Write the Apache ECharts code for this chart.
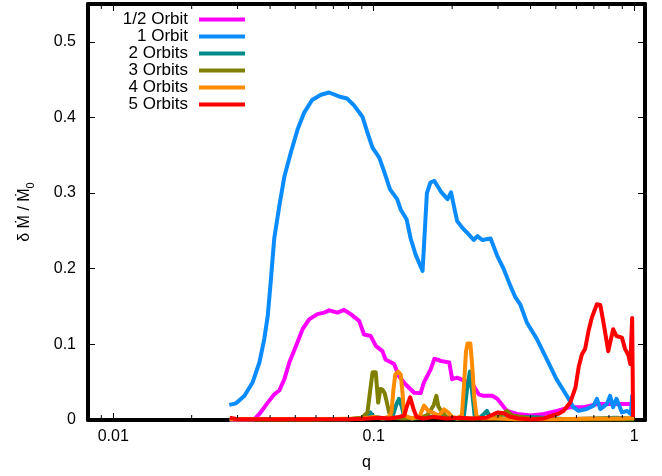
<!DOCTYPE html>
<html>
<head>
<meta charset="utf-8">
<script src="https://cdn.jsdelivr.net/npm/echarts@6/dist/echarts.min.js"></script>
<style>
    html, body { margin: 0; padding: 0; background: #fff; }
    #ct1 { width: 662px; height: 476px; }
</style>
</head>
<body>
<div id="ct1"></div>
<script>
// [q, dM/M0]
var halfOrbit = [[0.028, 0], [0.03, 0], [0.0347, 0.0005], [0.0364, 0.008], [0.0392, 0.023], [0.0415, 0.034],
    [0.0434, 0.039], [0.0454, 0.054], [0.0474, 0.076], [0.0503, 0.098], [0.0533, 0.120], [0.0565, 0.133],
    [0.0608, 0.140], [0.0645, 0.142], [0.0674, 0.145], [0.0684, 0.146], [0.0726, 0.142], [0.077, 0.1455],
    [0.0816, 0.140], [0.0879, 0.131], [0.0918, 0.113], [0.0974, 0.111], [0.1018, 0.098], [0.108, 0.091],
    [0.111, 0.080], [0.1197, 0.074], [0.125, 0.058], [0.1326, 0.047], [0.143, 0.036], [0.1514, 0.0356],
    [0.156, 0.050], [0.1654, 0.067], [0.171, 0.081], [0.181, 0.078], [0.195, 0.076], [0.2, 0.054],
    [0.209, 0.056], [0.222, 0.052], [0.232, 0.050], [0.242, 0.045], [0.253, 0.034], [0.264, 0.032],
    [0.285, 0.032], [0.298, 0.028], [0.325, 0.012], [0.355, 0.008], [0.40, 0.006], [0.45, 0.008],
    [0.505, 0.012], [0.568, 0.017], [0.64, 0.017], [0.72, 0.021], [0.81, 0.021], [0.91, 0.021],
    [0.97, 0.021], [1.0, 0.021]];

var oneOrbit = [[0.0279, 0.020], [0.0296, 0.022], [0.0319, 0.032], [0.0343, 0.050], [0.0364, 0.076],
    [0.038, 0.107], [0.0392, 0.138], [0.0403, 0.186], [0.0415, 0.240], [0.0434, 0.283], [0.0454, 0.322],
    [0.048, 0.353], [0.051, 0.384], [0.054, 0.406], [0.058, 0.423], [0.0627, 0.430], [0.0674, 0.433],
    [0.0748, 0.427], [0.079, 0.425], [0.084, 0.416], [0.0905, 0.401], [0.0946, 0.380], [0.0989, 0.360],
    [0.105, 0.347], [0.110, 0.327], [0.1155, 0.305], [0.123, 0.292], [0.127, 0.278], [0.1338, 0.265],
    [0.1386, 0.240], [0.1447, 0.219], [0.154, 0.197], [0.160, 0.300], [0.165, 0.314], [0.171, 0.316],
    [0.181, 0.302], [0.192, 0.292], [0.198, 0.301], [0.2, 0.301], [0.209, 0.263], [0.219, 0.254],
    [0.232, 0.245], [0.242, 0.238], [0.250, 0.243], [0.261, 0.238], [0.281, 0.240], [0.298, 0.217],
    [0.316, 0.199], [0.335, 0.177], [0.350, 0.162], [0.365, 0.153], [0.387, 0.129], [0.423, 0.107],
    [0.462, 0.080], [0.503, 0.054], [0.551, 0.032], [0.584, 0.017], [0.611, 0.012], [0.657, 0.0145],
    [0.698, 0.019], [0.719, 0.028], [0.741, 0.0145], [0.785, 0.021], [0.808, 0.032], [0.83, 0.017],
    [0.855, 0.028], [0.897, 0.010], [0.94, 0.012], [0.97, 0.008], [0.982, 0.032], [0.99, 0.006]];

var twoOrbits = [[0.028, 0.001], [0.08, 0.001], [0.094, 0.003], [0.097, 0.010], [0.1, 0.004], [0.11, 0.002],
    [0.118, 0.004], [0.122, 0.020], [0.125, 0.028], [0.128, 0.018], [0.131, 0.004], [0.14, 0.002],
    [0.16, 0.003], [0.175, 0.006], [0.19, 0.003], [0.21, 0.002], [0.222, 0.006], [0.228, 0.040],
    [0.234, 0.064], [0.239, 0.035], [0.244, 0.006], [0.255, 0.003], [0.265, 0.008], [0.272, 0.012],
    [0.28, 0.004], [0.3, 0.002], [0.35, 0.003], [0.4, 0.004], [0.45, 0.003], [0.55, 0.001], [0.7, 0.002],
    [0.85, 0.003], [0.95, 0.002], [0.99, 0.003]];

var threeOrbits = [[0.028, 0.001], [0.08, 0.001], [0.09, 0.003], [0.0946, 0.010], [0.097, 0.040],
    [0.099, 0.063], [0.1018, 0.063], [0.104, 0.023], [0.106, 0.041], [0.108, 0.040], [0.110, 0.036],
    [0.112, 0.025], [0.1145, 0.010], [0.118, 0.003], [0.13, 0.002], [0.15, 0.003], [0.16, 0.006],
    [0.165, 0.012], [0.17, 0.020], [0.174, 0.032], [0.177, 0.018], [0.18, 0.014], [0.19, 0.004],
    [0.21, 0.002], [0.25, 0.002], [0.3, 0.004], [0.325, 0.012], [0.34, 0.006], [0.4, 0.002], [0.6, 0.001],
    [0.9, 0.001], [1.0, 0.001]];

var fourOrbits = [[0.028, 0.001], [0.06, 0.001], [0.09, 0.002], [0.1, 0.004], [0.108, 0.002], [0.114, 0.004],
    [0.117, 0.010], [0.119, 0.040], [0.121, 0.060], [0.124, 0.064], [0.127, 0.060], [0.129, 0.035],
    [0.131, 0.006], [0.14, 0.002], [0.15, 0.005], [0.156, 0.019], [0.162, 0.012], [0.17, 0.009],
    [0.178, 0.006], [0.186, 0.014], [0.193, 0.010], [0.2, 0.004], [0.21, 0.002], [0.218, 0.006],
    [0.222, 0.045], [0.226, 0.090], [0.229, 0.101], [0.235, 0.101], [0.239, 0.070], [0.243, 0.030],
    [0.248, 0.005], [0.26, 0.002], [0.3, 0.002], [0.35, 0.001], [0.5, 0.001], [0.7, 0.002], [0.9, 0.002],
    [1.0, 0.003]];

var fiveOrbits = [[0.028, 0.003], [0.03, 0.001], [0.04, 0.001], [0.06, 0.001], [0.08, 0.001], [0.095, 0.002],
    [0.105, 0.003], [0.115, 0.002], [0.125, 0.004], [0.131, 0.006], [0.134, 0.018], [0.138, 0.030],
    [0.142, 0.015], [0.146, 0.004], [0.155, 0.002], [0.17, 0.004], [0.19, 0.002], [0.21, 0.003],
    [0.24, 0.002], [0.27, 0.003], [0.29, 0.008], [0.30, 0.010], [0.316, 0.009], [0.33, 0.005],
    [0.36, 0.002], [0.40, 0.001], [0.45, 0.002], [0.476, 0.005], [0.51, 0.008], [0.535, 0.012],
    [0.568, 0.023], [0.595, 0.043], [0.612, 0.070], [0.63, 0.087], [0.648, 0.094], [0.668, 0.118],
    [0.687, 0.135], [0.719, 0.153], [0.741, 0.152], [0.762, 0.129], [0.795, 0.091], [0.83, 0.120],
    [0.855, 0.111], [0.866, 0.113], [0.897, 0.109], [0.922, 0.094], [0.951, 0.085], [0.966, 0.074],
    [0.982, 0.135], [0.99, 0.004]];

var seriesNames = ['1/2 Orbit', '1 Orbit', '2 Orbits', '3 Orbits', '4 Orbits', '5 Orbits'];
var seriesColors = ['#ff00ff', '#0a8cff', '#008b8b', '#808000', '#ff8c00', '#ff0000'];
var seriesData = [halfOrbit, oneOrbit, twoOrbits, threeOrbits, fourOrbits, fiveOrbits];

// log axis minor ticks (gnuplot style 2..9)
var minorQ = [0.009, 0.02, 0.03, 0.04, 0.05, 0.06, 0.07, 0.08, 0.09,
    0.2, 0.3, 0.4, 0.5, 0.6, 0.7, 0.8, 0.9];

var qMin = 0.008, qMax = 1.1, yMax = 0.55;
var font = 'Liberation Sans, Arial, sans-serif';

var myChart1;

function buildSeries() {
    var list = [];
    for (var i = 0; i < seriesData.length; i++) {
        list.push({
            name: seriesNames[i],
            type: 'line',
            data: seriesData[i],
            showSymbol: false,
            symbol: 'none',
            color: seriesColors[i],
            lineStyle: {width: 4, color: seriesColors[i], join: 'round'},
            clip: true,
            animation: false
        });
    }
    list.push({
        type: 'custom',
        silent: true,
        clip: false,
        z: 10,
        data: minorQ.map(function (q) { return [q, 0]; }),
        encode: {x: 0, y: 1},
        renderItem: function (params, api) {
            var b = api.coord([api.value(0), 0]);
            var t = api.coord([api.value(0), yMax]);
            return {
                type: 'group',
                children: [
                    {type: 'line', shape: {x1: b[0], y1: b[1] - 2, x2: b[0], y2: b[1] - 5}, style: {stroke: '#000', lineWidth: 1}},
                    {type: 'line', shape: {x1: t[0], y1: t[1] + 2, x2: t[0], y2: t[1] + 5}, style: {stroke: '#000', lineWidth: 1}}
                ]
            };
        },
        animation: false
    });
    return list;
}

var axisLineStyle = {show: true, onZero: false, lineStyle: {color: '#000', width: 4}};
var tickStyle = {show: true, inside: true, length: 7, lineStyle: {color: '#000', width: 1}};

var option1 = {
    backgroundColor: '#fff',
    animation: false,
    textStyle: {fontFamily: font},
    grid: {left: 88, right: 17, top: 4, bottom: 55, containLabel: false},
    legend: {
        data: seriesNames,
        orient: 'vertical',
        align: 'right',
        left: 93,
        top: 6,
        icon: 'rect',
        itemWidth: 46,
        itemHeight: 4,
        itemGap: 0,
        textStyle: {fontSize: 17, lineHeight: 17, width: 90, padding: [0, 6, 0, 0], color: '#000', fontFamily: font}
    },
    xAxis: [{
        type: 'log',
        logBase: 10,
        min: qMin,
        max: qMax,
        name: 'q',
        nameLocation: 'middle',
        nameGap: 35,
        nameTextStyle: {fontSize: 16, color: '#000', fontFamily: font},
        axisLine: axisLineStyle,
        axisTick: tickStyle,
        splitLine: {show: false},
        axisLabel: {
            fontSize: 16, color: '#000', margin: 9, fontFamily: font,
            showMinLabel: false, showMaxLabel: false,
            formatter: function (v) { return String(+v.toPrecision(3)); }
        }
    }, {
        type: 'log',
        logBase: 10,
        min: qMin,
        max: qMax,
        position: 'top',
        axisLine: axisLineStyle,
        axisTick: tickStyle,
        splitLine: {show: false},
        axisLabel: {show: false}
    }],
    yAxis: [{
        type: 'value',
        min: 0,
        max: yMax,
        interval: 0.1,
        name: 'δ Ṁ / Ṁ{sub|0}',
        nameLocation: 'middle',
        nameGap: 52,
        nameRotate: 90,
        nameTextStyle: {
            fontSize: 16, lineHeight: 22, color: '#000', fontFamily: font,
            rich: {sub: {fontSize: 11, lineHeight: 11, verticalAlign: 'bottom', color: '#000', fontFamily: font}}
        },
        axisLine: axisLineStyle,
        axisTick: tickStyle,
        splitLine: {show: false},
        axisLabel: {fontSize: 16, color: '#000', margin: 12, showMaxLabel: false, fontFamily: font}
    }, {
        type: 'value',
        min: 0,
        max: yMax,
        interval: 0.1,
        position: 'right',
        axisLine: axisLineStyle,
        axisTick: tickStyle,
        splitLine: {show: false},
        axisLabel: {show: false}
    }],
    series: buildSeries()
};

function initMyChar1() {
    if (myChart1 && myChart1.dispose) {
        myChart1.dispose();
    }
    myChart1 = echarts.init(document.getElementById('ct1'));
    window.onresize = myChart1.resize;
    myChart1.setOption(option1, true);
}

initMyChar1();
</script>
</body>
</html>
